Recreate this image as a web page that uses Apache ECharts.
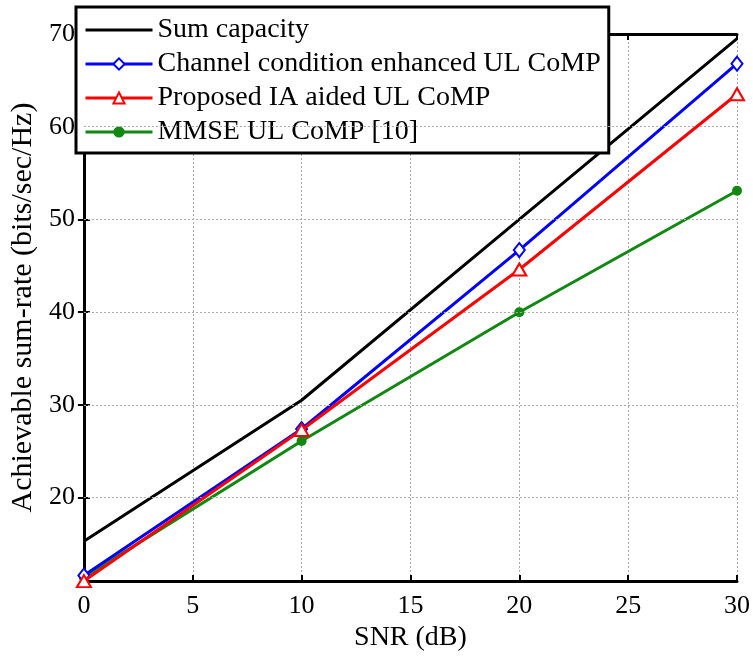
<!DOCTYPE html>
<html>
<head>
<meta charset="utf-8">
<script src="https://cdn.jsdelivr.net/npm/echarts@6/dist/echarts.min.js"></script>
<style>
html,body{margin:0;padding:0;background:#fff;}
#main{width:753px;height:657px;}
</style>
</head>
<body>
<div id="main"></div>
<script>
const snr = [0, 10, 20, 30];
const sumCapacity = [15.3, 30.5, 50.0, 69.5];
const channelEnhanced = [11.6, 27.4, 46.7, 66.8];
const proposedIA = [11.0, 27.3, 44.6, 63.5];
const mmse = [11.4, 26.1, 40.0, 53.1];
const yTicks = [20, 30, 40, 50, 60, 70];
const xTicks = [0, 5, 10, 15, 20, 25, 30];
const seriesNames = ['Sum capacity', 'Channel condition enhanced UL CoMP', 'Proposed IA aided UL CoMP', 'MMSE UL CoMP [10]'];

const font = 'Liberation Serif';
const pairs = arr => snr.map((x, i) => [x, arr[i]]);

const chart = echarts.init(document.getElementById('main'));
const gridLine = {show: true, lineStyle: {color: '#aaa', type: [2, 2], width: 1}};
chart.setOption({
  animation: false,
  backgroundColor: '#fff',
  grid: {left: 82, right: 16, top: 34, bottom: 71, containLabel: false},
  legend: {
    orient: 'vertical', left: 76, top: 7,
    backgroundColor: '#fff', borderColor: '#000', borderWidth: 3,
    padding: [9, 8, 7, 8], itemGap: 6, itemWidth: 67, itemHeight: 14,
    lineStyle: {width: 3},
    textStyle: {fontFamily: font, fontSize: 28, color: '#000', lineHeight: 28},
    data: [
      {name: seriesNames[0], icon: 'path://M0,0H67V3H0Z'},
      seriesNames[1], seriesNames[2], seriesNames[3]
    ]
  },
  xAxis: [{
    type: 'value', min: 0, max: 30, interval: 5,
    name: 'SNR (dB)', nameLocation: 'middle', nameGap: 36,
    nameTextStyle: {fontFamily: font, fontSize: 28, color: '#000'},
    axisLine: {show: true, lineStyle: {color: '#000', width: 3}},
    axisTick: {show: true, inside: true, length: 6, lineStyle: {color: '#000', width: 2}},
    axisLabel: {fontFamily: font, fontSize: 26, color: '#000', margin: 12},
    splitLine: gridLine
  }, {
    type: 'value', min: 0, max: 30, interval: 5, position: 'top',
    axisLine: {show: true, lineStyle: {color: '#000', width: 3}},
    axisTick: {show: true, inside: true, length: 6, lineStyle: {color: '#000', width: 2}},
    axisLabel: {show: false}, splitLine: {show: false}
  }],
  yAxis: [{
    type: 'value', min: 11, max: 70,
    name: 'Achievable sum-rate (bits/sec/Hz)', nameLocation: 'middle', nameGap: 40,
    nameTextStyle: {fontFamily: font, fontSize: 30, color: '#000'},
    axisLine: {show: true, lineStyle: {color: '#000', width: 3}},
    axisTick: {show: true, inside: true, length: 6, customValues: yTicks, lineStyle: {color: '#000', width: 2}},
    axisLabel: {fontFamily: font, fontSize: 26, color: '#000', margin: 9, customValues: yTicks},
    splitLine: {show: false}
  }, {
    type: 'value', min: 11, max: 70, position: 'right',
    axisLine: {show: true, lineStyle: {color: '#000', width: 3}},
    axisTick: {show: true, inside: true, length: 6, customValues: yTicks, lineStyle: {color: '#000', width: 2}},
    axisLabel: {show: false, customValues: yTicks}, splitLine: {show: false}
  }],
  series: [
    {
      name: seriesNames[0], type: 'line', data: pairs(sumCapacity),
      symbol: 'none', lineStyle: {color: '#000', width: 3}, itemStyle: {color: '#000'}, z: 3,
      markLine: {
        silent: true, symbol: 'none', label: {show: false},
        lineStyle: {color: '#aaa', type: [2, 2], width: 1},
        data: yTicks.slice(0, -1).map(v => ({yAxis: v}))
      }
    },
    {
      name: seriesNames[1], type: 'line', data: pairs(channelEnhanced),
      symbol: 'emptyDiamond', symbolSize: [11, 14],
      lineStyle: {color: '#0000ff', width: 3}, itemStyle: {color: '#0000ff', borderWidth: 2.5}, z: 4
    },
    {
      name: seriesNames[2], type: 'line', data: pairs(proposedIA),
      symbol: 'emptyTriangle', symbolSize: [14, 12],
      lineStyle: {color: '#ff0000', width: 3}, itemStyle: {color: '#ff0000', borderWidth: 2.5}, z: 5
    },
    {
      name: seriesNames[3], type: 'line', data: pairs(mmse),
      symbol: 'circle', symbolSize: 10,
      lineStyle: {color: '#118811', width: 3}, itemStyle: {color: '#118811'}, z: 2
    }
  ]
});
</script>
</body>
</html>
